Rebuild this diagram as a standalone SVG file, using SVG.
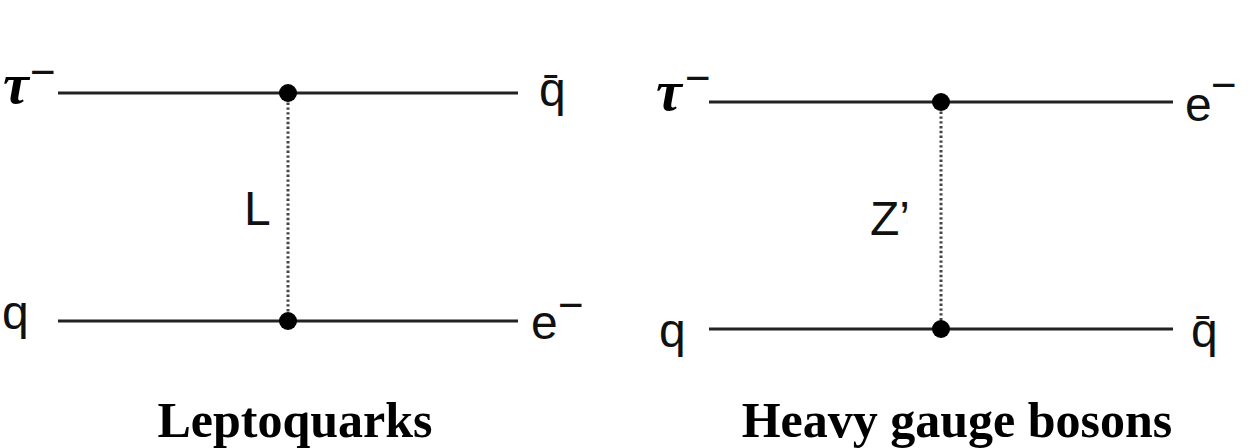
<svg xmlns="http://www.w3.org/2000/svg" width="1256" height="448" viewBox="0 0 1256 448">
<style>
.prop{stroke:#222;stroke-width:3.2;fill:none}
.med{stroke:#444;stroke-width:3;stroke-dasharray:2.4 2.4;fill:none}
.vtx{fill:#000}
.lbl{font-family:"Liberation Sans",Arial,sans-serif;font-size:48px;fill:#111}
.tau{font-family:"Liberation Serif","Times New Roman",serif;font-size:58px;font-weight:bold;font-style:italic;fill:#000}
.sup{font-family:"Liberation Sans",Arial,sans-serif;font-size:44px;fill:#111}
.cap{font-family:"Liberation Serif","Times New Roman",serif;font-size:50px;font-weight:bold;fill:#000;text-anchor:middle}
</style>
<rect width="1256" height="448" fill="#fff"/>
<g id="connectors">
  <line class="prop" x1="58" y1="93" x2="518" y2="93"/>
  <line class="prop" x1="58" y1="321" x2="518" y2="321"/>
  <line class="med" x1="288" y1="93" x2="288" y2="321"/>
  <line class="prop" x1="709" y1="102" x2="1173" y2="102"/>
  <line class="prop" x1="709" y1="329" x2="1173" y2="329"/>
  <line class="med" x1="941" y1="102" x2="941" y2="329"/>
</g>
<g id="leptoquark">
  <g id="lq-vertex-top"><circle class="vtx" cx="288" cy="93" r="9"/></g>
  <g id="lq-vertex-bottom"><circle class="vtx" cx="288" cy="321" r="9"/></g>
  <g id="lq-tau"><text class="tau" x="3" y="103">τ</text><text class="sup" x="30" y="87">−</text></g>
  <g id="lq-qbar"><text class="lbl" x="539" y="106">q̄</text></g>
  <g id="lq-q"><text class="lbl" x="2" y="329">q</text></g>
  <g id="lq-e"><text class="lbl" x="531" y="339">e</text><text class="sup" x="558" y="320">−</text></g>
  <g id="lq-L"><text class="lbl" x="244" y="225">L</text></g>
  <g id="lq-caption"><text class="cap" x="295" y="437">Leptoquarks</text></g>
</g>
<g id="zprime">
  <g id="zp-vertex-top"><circle class="vtx" cx="941" cy="102" r="9"/></g>
  <g id="zp-vertex-bottom"><circle class="vtx" cx="941" cy="329" r="9"/></g>
  <g id="zp-tau"><text class="tau" x="656" y="110">τ</text><text class="sup" x="685" y="93">−</text></g>
  <g id="zp-e"><text class="lbl" x="1185" y="121">e</text><text class="sup" x="1211" y="100">−</text></g>
  <g id="zp-q"><text class="lbl" x="659" y="347">q</text></g>
  <g id="zp-qbar"><text class="lbl" x="1191" y="347">q̄</text></g>
  <g id="zp-Z"><text class="lbl" x="870" y="235">Z’</text></g>
  <g id="zp-caption"><text class="cap" x="957" y="437">Heavy gauge bosons</text></g>
</g>
</svg>
